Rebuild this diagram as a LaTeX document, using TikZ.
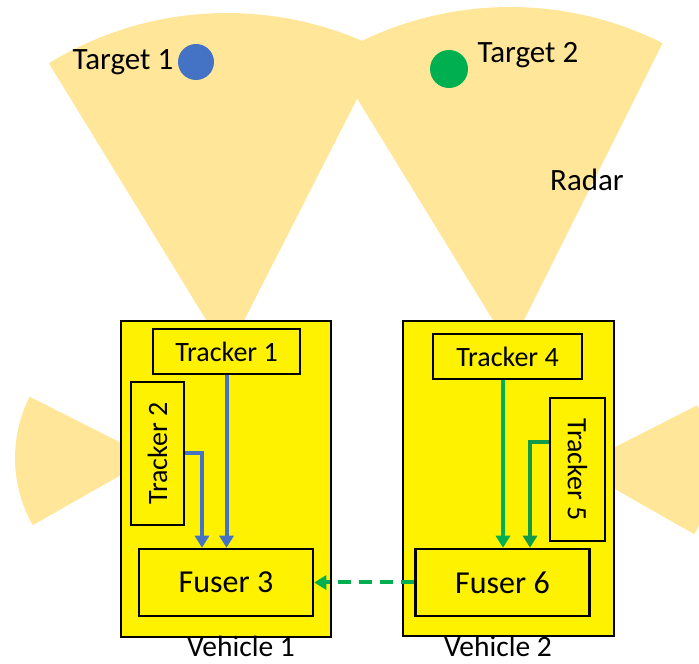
\documentclass[tikz,border=0pt]{standalone}
\usepackage{fontspec}
\setmainfont{Carlito}
\usetikzlibrary{arrows.meta}
\usetikzlibrary{shapes}

\definecolor{radarfill}{HTML}{FFE699}
\definecolor{tblue}{HTML}{4472C4}
\definecolor{tgreen}{HTML}{00B050}
\definecolor{dgreen}{HTML}{119A48}

\begin{document}
\begin{tikzpicture}[x=1pt, y=1pt,
    radar/.style={fill=radarfill},
    box/.style={draw, line width=2.5pt, fill=yellow, inner sep=0pt},
    trk/.style={box, font=\fontsize{28}{34}\selectfont},
    fus/.style={box, font=\fontsize{32}{38}\selectfont, minimum width=174pt, minimum height=67pt},
    lbl/.style={font=\fontsize{31}{37}\selectfont, anchor=base, inner sep=1pt},
    vlbl/.style={lbl, font=\fontsize{29.5}{35}\selectfont},
    flow/.style={line width=4pt, -{Triangle[width=14pt, length=12pt]}}]
    \useasboundingbox (0,0) rectangle (699,664);
    \clip (0,0) rectangle (699,664);

    % radar fields
    \fill[radar] (227,310) -- ++(121.5:341) arc[start angle=121.5, end angle=63, radius=341] -- cycle;
    \fill[radar] (510,316) -- ++(121.5:341) arc[start angle=121.5, end angle=63.4, radius=341] -- cycle;
    \fill[radar] (151,206) -- ++(153.2:136) arc[start angle=153.2, end angle=209.6, radius=136] -- cycle;
    \fill[radar] (576,197) -- ++(-29.6:136) arc[start angle=-29.6, end angle=27, radius=136] -- cycle;

    \node[lbl] (Tg1) at (123,594) {Target 1};
    \node[circle, fill=tblue, inner sep=0pt, minimum size=36pt] (D1) at (196,602) {};
    \node[lbl] (Tg2) at (528,601) {Target 2};
    \node[circle, fill=tgreen, inner sep=0pt, minimum size=38pt] (D2) at (449,595) {};
    \node[lbl] (R) at (587,473) {Radar};

    % vehicle 1
    \node[box, minimum width=210pt, minimum height=316pt] (V1) at (226,185) {};
    \node[trk, minimum width=147pt, minimum height=45pt] (T1) at (226.5,312.5) {Tracker 1};
    \node[trk, rotate=90, minimum width=143pt, minimum height=53pt] (T2) at (157.5,210.5) {Tracker 2};
    \node[fus] (F3) at (226,81.5) {Fuser 3};
    \node[vlbl] (L1) at (241,7) {Vehicle 1};

    % vehicle 2
    \node[box, minimum width=211pt, minimum height=315pt] (V2) at (508.5,185.5) {};
    \node[trk, minimum width=149pt, minimum height=45pt] (T4) at (507.5,307.5) {Tracker 4};
    \node[trk, rotate=-90, minimum width=143pt, minimum height=55pt] (T5) at (577.5,194.5) {Tracker 5};
    \node[fus] (F6) at (502.5,81.5) {Fuser 6};
    \node[vlbl] (L2) at (498,7) {Vehicle 2};

    \draw[flow, tblue] (T1.south) -- (T1.south |- F3.north);
    \draw[flow, tblue] (T2.south) -| ([xshift=-24pt]F3.north);
    \draw[flow, tgreen] ([xshift=-4.5pt]T4.south) -- ([xshift=-4.5pt]T4.south |- F6.north);
    \draw[flow, dgreen] ([yshift=27.5pt]T5.south) -| ([xshift=27.5pt]F6.north);
    \draw[flow, tgreen, dash pattern=on 13pt off 8pt] (F6.west) -- (F3.east);
\end{tikzpicture}
\end{document}
